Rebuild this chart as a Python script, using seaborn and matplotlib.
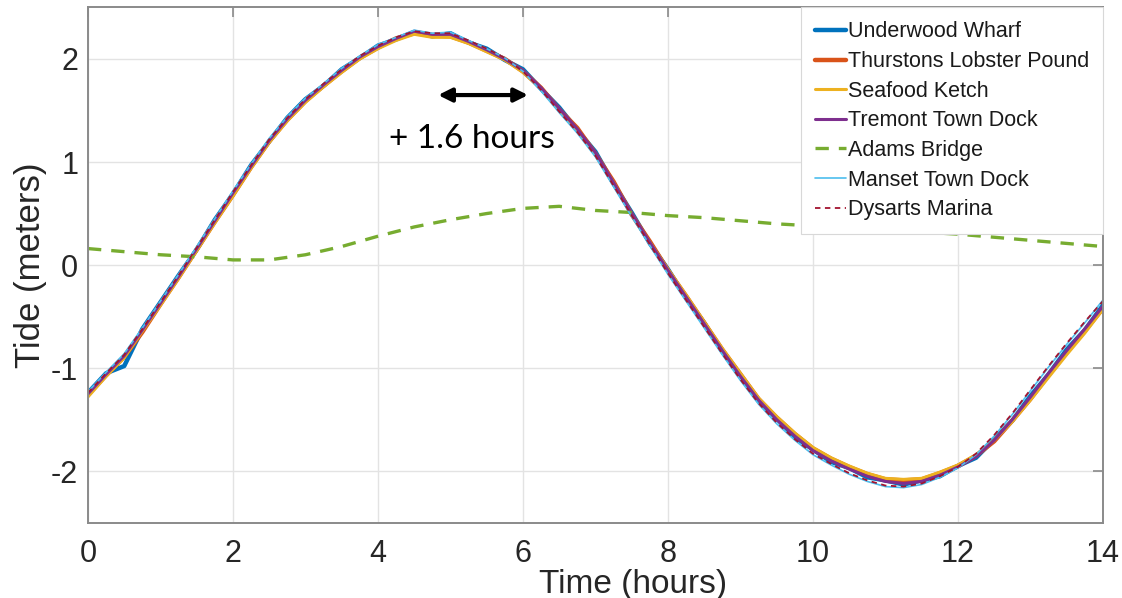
import numpy as np
import pandas as pd
import seaborn as sns
import matplotlib.pyplot as plt

# --- DATA ---
# time axis for the six harbour gauges, every 0.25 hours
HOURS = np.arange(0, 14.01, 0.25)
# Adams Bridge is read at a coarser step (0.5 hours)
HOURS_ADAMS = np.arange(0, 14.01, 0.5)

UNDERWOOD = [-1.24, -1.05, -0.98, -0.62, -0.36, -0.10, 0.15, 0.44, 0.69, 0.97,
             1.20, 1.43, 1.61, 1.74, 1.90, 2.01, 2.13, 2.19, 2.26, 2.22,
             2.25, 2.16, 2.10, 1.99, 1.90, 1.71, 1.53, 1.31, 1.10, 0.79,
             0.51, 0.21, -0.04, -0.32, -0.56, -0.84, -1.07, -1.32, -1.49, -1.67,
             -1.79, -1.91, -1.97, -2.06, -2.09, -2.13, -2.09, -2.05, -1.95, -1.87,
             -1.69, -1.51, -1.27, -1.06, -0.82, -0.63, -0.39]
THURSTONS = [-1.26, -1.07, -0.89, -0.65, -0.38, -0.12, 0.15, 0.42, 0.68, 0.95,
             1.20, 1.41, 1.59, 1.74, 1.88, 2.01, 2.11, 2.20, 2.25, 2.23,
             2.22, 2.16, 2.08, 2.00, 1.88, 1.72, 1.51, 1.33, 1.08, 0.81,
             0.49, 0.23, -0.05, -0.30, -0.56, -0.82, -1.06, -1.30, -1.48, -1.64,
             -1.78, -1.88, -1.96, -2.03, -2.08, -2.09, -2.08, -2.02, -1.95, -1.85,
             -1.71, -1.51, -1.30, -1.07, -0.85, -0.64, -0.42]
SEAFOOD = [-1.28, -1.08, -0.90, -0.64, -0.39, -0.13, 0.14, 0.41, 0.67, 0.94,
           1.19, 1.40, 1.58, 1.73, 1.87, 2.00, 2.10, 2.18, 2.24, 2.21,
           2.21, 2.15, 2.07, 1.99, 1.87, 1.71, 1.50, 1.31, 1.07, 0.80,
           0.49, 0.22, -0.04, -0.29, -0.55, -0.81, -1.05, -1.29, -1.47, -1.63,
           -1.77, -1.87, -1.95, -2.02, -2.07, -2.08, -2.07, -2.01, -1.94, -1.84,
           -1.70, -1.52, -1.31, -1.09, -0.87, -0.66, -0.43]
TREMONT = [-1.25, -1.06, -0.88, -0.63, -0.37, -0.11, 0.16, 0.43, 0.70, 0.96,
           1.21, 1.42, 1.60, 1.75, 1.89, 2.02, 2.12, 2.20, 2.27, 2.24,
           2.24, 2.17, 2.09, 2.00, 1.89, 1.72, 1.52, 1.32, 1.09, 0.80,
           0.50, 0.22, -0.05, -0.31, -0.57, -0.83, -1.08, -1.31, -1.50, -1.66,
           -1.80, -1.90, -1.98, -2.05, -2.10, -2.12, -2.10, -2.04, -1.96, -1.86,
           -1.70, -1.50, -1.28, -1.05, -0.83, -0.62, -0.40]
ADAMS = [0.16, 0.13, 0.10, 0.08, 0.05, 0.05, 0.10, 0.18, 0.28, 0.37,
         0.44, 0.50, 0.55, 0.57, 0.53, 0.51, 0.48, 0.46, 0.43, 0.40,
         0.38, 0.37, 0.34, 0.32, 0.30, 0.27, 0.24, 0.21, 0.18]
MANSET = [-1.23, -1.04, -0.86, -0.61, -0.35, -0.09, 0.18, 0.45, 0.72, 0.98,
          1.23, 1.44, 1.62, 1.76, 1.91, 2.03, 2.14, 2.21, 2.28, 2.25,
          2.26, 2.18, 2.10, 2.01, 1.88, 1.69, 1.48, 1.28, 1.05, 0.76,
          0.47, 0.19, -0.09, -0.35, -0.61, -0.87, -1.12, -1.35, -1.54, -1.70,
          -1.84, -1.94, -2.03, -2.10, -2.15, -2.16, -2.13, -2.06, -1.97, -1.84,
          -1.66, -1.45, -1.22, -0.99, -0.77, -0.56, -0.34]
DYSARTS = [-1.24, -1.05, -0.87, -0.62, -0.36, -0.10, 0.17, 0.44, 0.71, 0.97,
           1.22, 1.43, 1.61, 1.76, 1.90, 2.03, 2.13, 2.21, 2.27, 2.25,
           2.25, 2.18, 2.10, 2.01, 1.88, 1.70, 1.49, 1.29, 1.06, 0.77,
           0.48, 0.20, -0.08, -0.34, -0.60, -0.86, -1.11, -1.34, -1.53, -1.69,
           -1.83, -1.93, -2.02, -2.09, -2.14, -2.15, -2.12, -2.05, -1.96, -1.83,
           -1.65, -1.44, -1.21, -0.98, -0.76, -0.55, -0.35]

X_TICKS = [0, 2, 4, 6, 8, 10, 12, 14]
Y_TICKS = [-2, -1, 0, 1, 2]

# station -> (x, y, colour, linewidth, dash)
STATIONS = {
    "Underwood Wharf": (HOURS, UNDERWOOD, "#0072BD", 3.2, None),
    "Thurstons Lobster Pound": (HOURS, THURSTONS, "#D95319", 3.2, None),
    "Seafood Ketch": (HOURS, SEAFOOD, "#EDB120", 2.2, None),
    "Tremont Town Dock": (HOURS, TREMONT, "#7E2F8E", 2.2, None),
    "Adams Bridge": (HOURS_ADAMS, ADAMS, "#77AC30", 2.4, (4, 3)),
    "Manset Town Dock": (HOURS, MANSET, "#4DBEEE", 1.2, None),
    "Dysarts Marina": (HOURS, DYSARTS, "#A2142F", 1.3, (3, 2.5)),
}

sns.set_style("white")
plt.rcParams["font.family"] = ["Liberation Sans", "DejaVu Sans"]
plt.rcParams["axes.unicode_minus"] = False

fig = plt.figure(figsize=(11.22, 5.98), dpi=100)
ax = fig.add_axes([0.0784, 0.126, 0.9046, 0.8615])

for name, (xs, ys, color, lw, dash) in STATIONS.items():
    df = pd.DataFrame({"Time": xs, "Tide": ys})
    sns.lineplot(data=df, x="Time", y="Tide", ax=ax, color=color,
                 linewidth=lw, label=name)
    if dash is not None:
        ax.lines[-1].set_dashes(dash)

ax.set_xlim(0, 14)
ax.set_ylim(-2.5, 2.5)
ax.set_xticks(X_TICKS)
ax.set_yticks(Y_TICKS)
ax.grid(True, color="#e3e3e3", linewidth=1.0)
ax.set_axisbelow(True)

for side in ["top", "bottom", "left", "right"]:
    ax.spines[side].set_visible(True)
    ax.spines[side].set_color("#8a8a8a")
    ax.spines[side].set_linewidth(1.4)
ax.tick_params(direction="in", length=7, width=1.2, color="#8a8a8a",
               top=True, right=True, labelsize=22, labelcolor="#262626")
ax.tick_params(axis="x", pad=12)
ax.tick_params(axis="y", pad=7)

ax.set_xlabel("Time (hours)", fontsize=24, color="#262626")
# the label sits slightly right of centre and runs to the bottom edge
ax.xaxis.set_label_coords(0.537, -0.09)
ax.set_ylabel("Tide (meters)", fontsize=25, color="#262626", labelpad=3)

# phase shift annotation
ax.annotate("", xy=(6.07, 1.65), xytext=(4.83, 1.65),
            arrowprops=dict(arrowstyle="<|-|>", color="black", lw=3,
                            mutation_scale=20, shrinkA=0, shrinkB=0))
ax.text(5.3, 1.22, "+ 1.6 hours", fontsize=24, ha="center", va="center",
        family=["Lato", "DejaVu Sans"], color="black")

leg = ax.legend(loc="upper right", fontsize=15.5, frameon=True, fancybox=False,
                framealpha=1, edgecolor="#d8d8d8", borderaxespad=0,
                handlelength=1.4, handletextpad=0.1, labelspacing=0.4,
                borderpad=0.65)
leg.get_frame().set_linewidth(0.8)
for t in leg.get_texts():
    t.set_color("#1a1a1a")

fig.savefig("out.png", dpi=100)
